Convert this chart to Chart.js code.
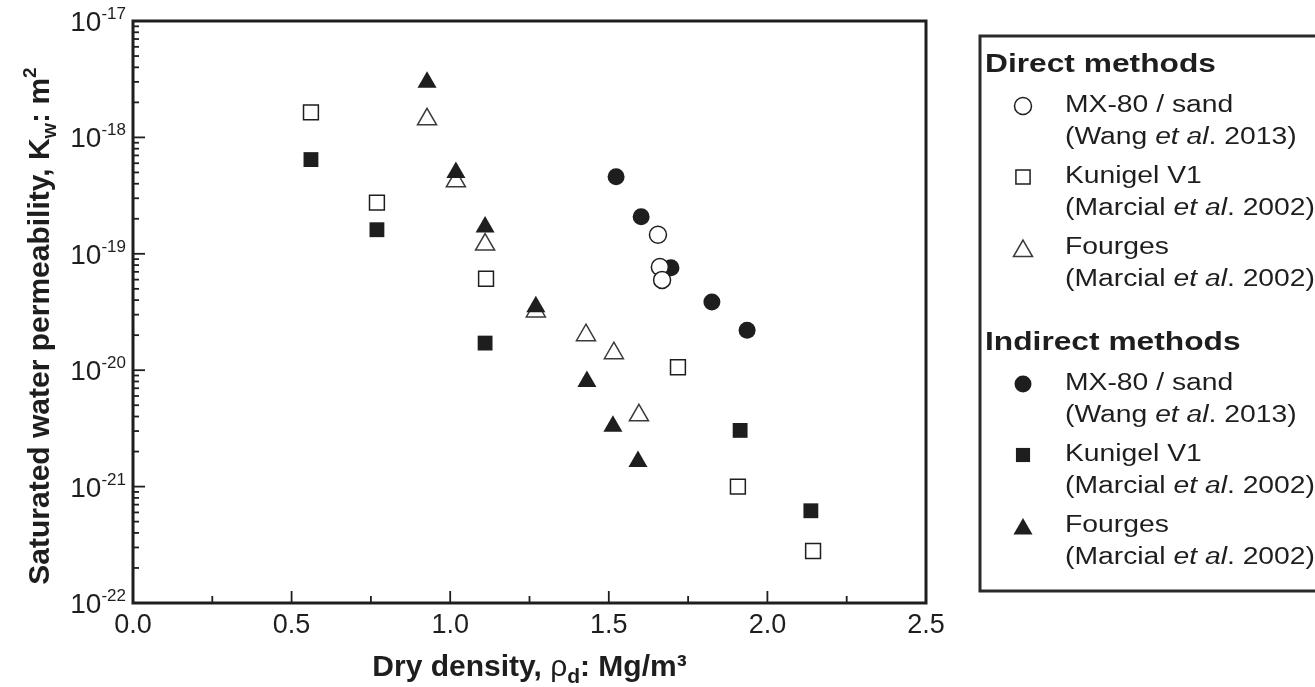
<!DOCTYPE html>
<html>
<head>
<meta charset="utf-8">
<script src="https://cdn.jsdelivr.net/npm/chart.js@4.4.1/dist/chart.umd.min.js"></script>
<style>
html, body { margin: 0; padding: 0; background: #fff; }
</style>
</head>
<body>
<canvas id="chart-permeability" width="1315" height="687"></canvas>
<script>
// dry density (Mg/m3) and saturated permeability (m2)
var mx80DirectDensity = [1.655, 1.661, 1.668];
var mx80DirectK = [1.46e-19, 7.7e-20, 5.97e-20];

var kunigelDirectDensity = [0.561, 0.769, 1.113, 1.718, 1.907, 2.144];
var kunigelDirectK = [1.64e-18, 2.75e-19, 6.1e-20, 1.06e-20, 1.0e-21, 2.8e-22];

var fourgesDirectDensity = [0.927, 1.018, 1.110, 1.270, 1.428, 1.516, 1.595];
var fourgesDirectK = [1.43e-18, 4.2e-19, 1.2e-19, 3.2e-20, 2.0e-20, 1.4e-20, 4.1e-21];

var mx80IndirectDensity = [1.523, 1.602, 1.696, 1.825, 1.936];
var mx80IndirectK = [4.6e-19, 2.08e-19, 7.6e-20, 3.86e-20, 2.2e-20];

var kunigelIndirectDensity = [0.561, 0.769, 1.110, 1.914, 2.137];
var kunigelIndirectK = [6.45e-19, 1.61e-19, 1.71e-20, 3.04e-21, 6.2e-22];

var fourgesIndirectDensity = [0.927, 1.018, 1.110, 1.270, 1.431, 1.513, 1.592];
var fourgesIndirectK = [2.97e-18, 5.0e-19, 1.7e-19, 3.5e-20, 8.0e-21, 3.3e-21, 1.64e-21];

var xTickLabels = ['0.0', '0.5', '1.0', '1.5', '2.0', '2.5'];
var yDecades = [-22, -21, -20, -19, -18, -17];

var groupTitles = ['Direct methods', 'Indirect methods'];
var materialNames = ['MX-80 / sand', 'Kunigel V1', 'Fourges'];
var sourceAuthors = ['Wang', 'Marcial', 'Marcial'];
var sourceYears = ['2013', '2002', '2002'];

var INK = '#1e1e1e';
var FONT = '"Liberation Sans", Arial, sans-serif';

function pts(xs, ys) {
    return xs.map(function (x, i) { return { x: x, y: ys[i] }; });
}

function series(label, xs, ys, style, filled, radius, order) {
    return {
        label: label,
        data: pts(xs, ys),
        pointStyle: style,
        pointRadius: radius,
        pointHoverRadius: radius,
        backgroundColor: filled ? INK : '#ffffff',
        borderColor: filled ? INK : (style === 'triangle' ? '#3a3a3a' : INK),
        borderWidth: filled ? 0 : 1.5,
        order: order
    };
}

// draws pieces of text one after another, each with its own font and offset
function drawRich(ctx, parts, x, y, sx) {
    var cx = x;
    parts.forEach(function (p) {
        ctx.font = p.font;
        ctx.save();
        ctx.translate(cx, y + (p.dy || 0));
        ctx.scale(sx, 1);
        ctx.fillText(p.t, 0, 0);
        ctx.restore();
        cx += ctx.measureText(p.t).width * sx;
    });
    return cx - x;
}

function richWidth(ctx, parts, sx) {
    var w = 0;
    parts.forEach(function (p) {
        ctx.font = p.font;
        w += ctx.measureText(p.t).width * sx;
    });
    return w;
}

var axesPlugin = {
    id: 'axesPlugin',
    afterDatasetsDraw: function (chart) {
        var ctx = chart.ctx;
        var a = chart.chartArea;
        var xs = chart.scales.x;
        var ys = chart.scales.y;
        ctx.save();
        ctx.strokeStyle = INK;
        ctx.fillStyle = INK;

        // inward ticks on the bottom
        ctx.lineWidth = 1.8;
        for (var i = 0; i <= 10; i++) {
            var v = i * 0.25;
            var px = xs.getPixelForValue(v);
            var len = (i % 2 === 0) ? 12 : 7;
            ctx.beginPath();
            ctx.moveTo(px, a.bottom);
            ctx.lineTo(px, a.bottom - len);
            ctx.stroke();
        }
        // inward log ticks on the left
        yDecades.forEach(function (e) {
            for (var m = 1; m <= 9; m++) {
                if (e === -17 && m > 1) break;
                var py = ys.getPixelForValue(m * Math.pow(10, e));
                var l = (m === 1) ? 12 : 6;
                ctx.beginPath();
                ctx.moveTo(a.left, py);
                ctx.lineTo(a.left + l, py);
                ctx.stroke();
            }
        });

        // frame
        ctx.lineWidth = 3;
        ctx.strokeRect(a.left, a.top, a.right - a.left, a.bottom - a.top);

        // x tick labels
        ctx.textAlign = 'center';
        ctx.textBaseline = 'alphabetic';
        ctx.font = '27px ' + FONT;
        xTickLabels.forEach(function (t) {
            ctx.fillText(t, xs.getPixelForValue(parseFloat(t)), 633);
        });

        // y tick labels 10^n
        ctx.textAlign = 'left';
        yDecades.forEach(function (e) {
            var py = ys.getPixelForValue(Math.pow(10, e));
            var parts = [
                { t: '10', font: '28px ' + FONT },
                { t: String(e), font: '17px ' + FONT, dy: -12 }
            ];
            var w = richWidth(ctx, parts, 1);
            drawRich(ctx, parts, 126 - w, py + 10, 1);
        });

        // x title
        var xt = [
            { t: 'Dry density, ', font: 'bold 30px ' + FONT },
            { t: 'ρ', font: '30px ' + FONT },
            { t: 'd', font: 'bold 21px ' + FONT, dy: 7 },
            { t: ': Mg/m³', font: 'bold 30px ' + FONT }
        ];
        var xw = richWidth(ctx, xt, 1);
        drawRich(ctx, xt, (a.left + a.right) / 2 - xw / 2, 676, 1);

        // y title
        var yt = [
            { t: 'Saturated water permeability, K', font: 'bold 30px ' + FONT },
            { t: 'w', font: 'bold 20px ' + FONT, dy: 7 },
            { t: ': m', font: 'bold 30px ' + FONT },
            { t: '2', font: 'bold 19px ' + FONT, dy: -13 }
        ];
        var yw = richWidth(ctx, yt, 1);
        ctx.translate(49, 326);
        ctx.rotate(-Math.PI / 2);
        drawRich(ctx, yt, -yw / 2, 0, 1);
        ctx.restore();
    }
};

var legendPlugin = {
    id: 'legendPlugin',
    afterDraw: function (chart) {
        var ctx = chart.ctx;
        var sets = chart.data.datasets;
        var sx = 1.23;
        ctx.save();
        ctx.strokeStyle = '#2a2a2a';
        ctx.lineWidth = 3;
        ctx.strokeRect(980, 36, 400, 555);

        ctx.fillStyle = INK;
        ctx.textBaseline = 'middle';
        var groupY = [65, 343];
        var symX = 1023, textX = 1065;
        groupTitles.forEach(function (g, gi) {
            drawRich(ctx, [{ t: g, font: 'bold 26px ' + FONT }], 985, groupY[gi], 1.22);
            for (var k = 0; k < 3; k++) {
                var rowY = groupY[gi] + 41 + k * 71;
                var ds = sets[gi * 3 + k];
                ctx.fillStyle = ds.backgroundColor;
                ctx.strokeStyle = ds.borderColor;
                ctx.lineWidth = ds.borderWidth;
                var r = ds.pointStyle === 'triangle' ? 11 : (ds.pointStyle === 'rect' ? 10 : 8.5);
                var dy = ds.pointStyle === 'triangle' ? 3 : 0;
                Chart.helpers.drawPoint(ctx, {
                    pointStyle: ds.pointStyle, radius: r, rotation: 0,
                    borderWidth: ds.borderWidth
                }, symX, rowY + dy);
                ctx.fillStyle = INK;
                drawRich(ctx, [{ t: materialNames[k], font: '23px ' + FONT }], textX, rowY, sx);
                drawRich(ctx, [
                    { t: '(' + sourceAuthors[k] + ' ', font: '23px ' + FONT },
                    { t: 'et al', font: 'italic 23px ' + FONT },
                    { t: '. ' + sourceYears[k] + ')', font: '23px ' + FONT }
                ], textX, rowY + 32, sx);
            }
        });
        ctx.restore();
    }
};

var ctx = document.getElementById('chart-permeability');
new Chart(ctx, {
    type: 'scatter',
    data: {
        datasets: [
            series('MX-80 / sand (direct)', mx80DirectDensity, mx80DirectK, 'circle', false, 8.5, 1),
            series('Kunigel V1 (direct)', kunigelDirectDensity, kunigelDirectK, 'rect', false, 10.5, 5),
            series('Fourges (direct)', fourgesDirectDensity, fourgesDirectK, 'triangle', false, 11, 4),
            series('MX-80 / sand (indirect)', mx80IndirectDensity, mx80IndirectK, 'circle', true, 8.5, 3),
            series('Kunigel V1 (indirect)', kunigelIndirectDensity, kunigelIndirectK, 'rect', true, 10.5, 6),
            series('Fourges (indirect)', fourgesIndirectDensity, fourgesIndirectK, 'triangle', true, 11, 2)
        ]
    },
    options: {
        responsive: false,
        animation: false,
        layout: { padding: { left: 0, top: 21, right: 389, bottom: 0 } },
        plugins: {
            legend: { display: false },
            tooltip: { enabled: false }
        },
        scales: {
            x: {
                type: 'linear', min: 0, max: 2.5,
                grid: { display: false }, border: { display: false },
                ticks: { display: false },
                afterFit: function (s) { s.height = 84; }
            },
            y: {
                type: 'logarithmic', min: 1e-22, max: 1e-17,
                grid: { display: false }, border: { display: false },
                ticks: { display: false },
                afterFit: function (s) { s.width = 133; }
            }
        }
    },
    plugins: [axesPlugin, legendPlugin]
});
</script>
</body>
</html>
